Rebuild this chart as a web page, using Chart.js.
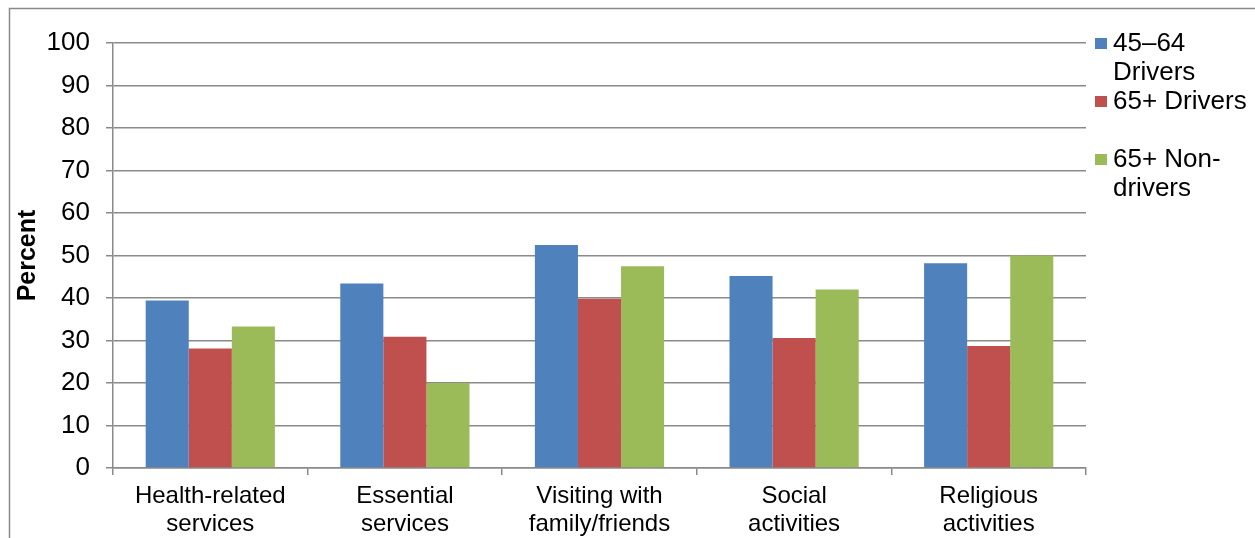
<!DOCTYPE html>
<html>
<head>
<meta charset="utf-8">
<title>Trip purposes by driver group</title>
<script src="https://cdn.jsdelivr.net/npm/chart.js@4.4.0/dist/chart.umd.min.js"></script>
<style>
    html, body { margin: 0; padding: 0; background: #fff; }
    #wrap { width: 1255px; height: 538px; position: relative; }
</style>
</head>
<body>
<div id="wrap"><canvas id="tripChart"></canvas></div>
<script>
// Trip purposes (x axis), one label line per array entry
const categories = [
    ['Health-related', 'services'],
    ['Essential', 'services'],
    ['Visiting with', 'family/friends'],
    ['Social', 'activities'],
    ['Religious', 'activities']
];

// Legend entries, wrapped the way they are shown
const seriesLabels = [
    ['45–64', 'Drivers'],
    ['65+ Drivers'],
    ['65+ Non-', 'drivers']
];

// Percent per trip purpose
const drivers4564 = [39.4, 43.4, 52.5, 45.2, 48.2];
const drivers65 = [28.1, 30.9, 39.8, 30.6, 28.7];
const nonDrivers65 = [33.3, 20.0, 47.5, 42.0, 50.0];

const yTicks = [0, 10, 20, 30, 40, 50, 60, 70, 80, 90, 100];

const colors = ['#4F81BD', '#C0504D', '#9BBB59'];
const gridColor = '#8a8a8a';
const fontFamily = "'Liberation Sans', Arial, sans-serif";

// Outer frame of the chart object
const framePlugin = {
    id: 'frame',
    beforeDraw(chart) {
        const ctx = chart.ctx;
        ctx.save();
        ctx.strokeStyle = gridColor;
        ctx.lineWidth = 1.5;
        ctx.beginPath();
        ctx.moveTo(9.5, chart.height + 5);
        ctx.lineTo(9.5, 8.5);
        ctx.lineTo(chart.width + 5, 8.5);
        ctx.stroke();
        ctx.restore();
    }
};

// Legend on the right with wrapped entries
const sideLegend = {
    id: 'sideLegend',
    afterDraw(chart) {
        const ctx = chart.ctx;
        const area = chart.chartArea;
        const rowTops = [44, 102, 160];
        const lineGap = 29;
        ctx.save();
        ctx.font = '26px ' + fontFamily;
        ctx.textBaseline = 'middle';
        ctx.fillStyle = '#000';
        chart.data.datasets.forEach((ds, i) => {
            const y = rowTops[i];
            ctx.fillStyle = ds.backgroundColor;
            ctx.fillRect(area.right + 9, y - 6, 12, 11);
            ctx.fillStyle = '#000';
            seriesLabels[i].forEach((line, j) => {
                ctx.fillText(line, area.right + 27, y + j * lineGap);
            });
        });
        ctx.restore();
    }
};

const seriesValues = [drivers4564, drivers65, nonDrivers65];

new Chart(document.getElementById('tripChart'), {
    type: 'bar',
    data: {
        labels: categories,
        datasets: seriesValues.map((values, i) => ({
            label: seriesLabels[i].join(' '),
            data: values,
            backgroundColor: colors[i],
            borderWidth: 0,
            barPercentage: 1.0,
            categoryPercentage: 0.664
        }))
    },
    options: {
        responsive: true,
        maintainAspectRatio: false,
        animation: false,
        layout: {
            padding: { top: 43, right: 169, bottom: 0, left: 0 }
        },
        plugins: {
            legend: { display: false },
            tooltip: { enabled: false }
        },
        scales: {
            x: {
                grid: {
                    drawOnChartArea: false,
                    drawTicks: true,
                    tickLength: 7,
                    color: gridColor,
                    lineWidth: 1.5
                },
                border: { color: gridColor, width: 1.5 },
                ticks: {
                    color: '#000',
                    padding: 8,
                    maxRotation: 0,
                    font: { family: fontFamily, size: 24, lineHeight: 1.15 }
                },
                afterFit(scale) { scale.height = 70; }
            },
            y: {
                min: 0,
                max: 100,
                afterBuildTicks(scale) {
                    scale.ticks = yTicks.map(v => ({ value: v }));
                },
                grid: {
                    color: gridColor,
                    lineWidth: 1.5,
                    tickLength: 7
                },
                border: { color: gridColor, width: 1.5 },
                ticks: {
                    color: '#000',
                    padding: 16,
                    font: { family: fontFamily, size: 26 }
                },
                title: {
                    display: true,
                    text: 'Percent',
                    color: '#000',
                    padding: { top: 13, bottom: 0 },
                    font: { family: fontFamily, size: 25, weight: 'bold', lineHeight: 1.2 }
                },
                afterFit(scale) { scale.width = 113; }
            }
        }
    },
    plugins: [framePlugin, sideLegend]
});
</script>
</body>
</html>
